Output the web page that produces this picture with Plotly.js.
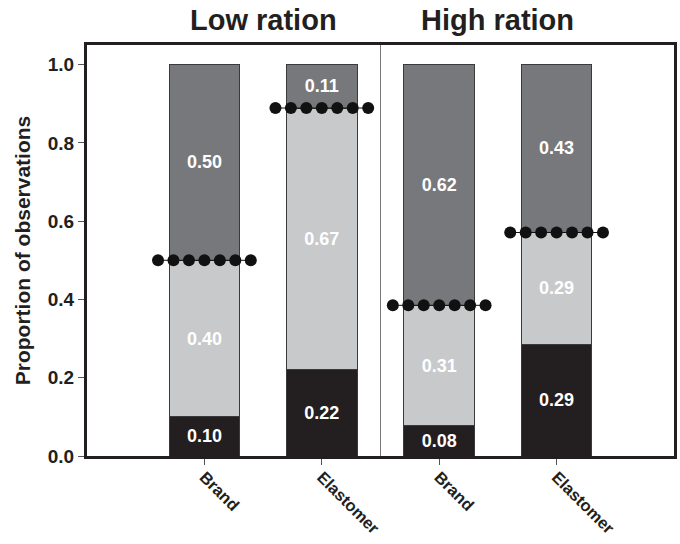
<!DOCTYPE html>
<html>
<head>
<meta charset="utf-8">
<script src="https://cdn.plot.ly/plotly-3.0.1.min.js"></script>
<style>html,body{margin:0;padding:0;background:#fff;}#chart{width:680px;height:544px;}</style>
</head>
<body>
<div id="chart"></div>
<script>
// ---- data ----
var categories = ["Brand", "Elastomer", "Brand", "Elastomer"];
var groups = ["Low ration", "High ration"];
var bottomVals = [0.10, 0.222, 0.077, 0.286];
var middleVals = [0.40, 0.667, 0.308, 0.286];
var topVals    = [0.50, 0.111, 0.615, 0.428];
var bottomLabels = ["0.10", "0.22", "0.08", "0.29"];
var middleLabels = ["0.40", "0.67", "0.31", "0.29"];
var topLabels    = ["0.50", "0.11", "0.62", "0.43"];
var thresholds = [0.50, 0.889, 0.385, 0.571];
var yTicks = [0.0, 0.2, 0.4, 0.6, 0.8, 1.0];

// ---- styling ----
var FONT = "Liberation Sans, Arial, Helvetica, sans-serif";
var INK = "#231f20";
var xpos = categories.map(function (_, i) { return i; });

function barTrace(vals, labels, color) {
  return {
    type: "bar", x: xpos, y: vals, width: 0.6,
    marker: {color: color, line: {color: "#3a3a3a", width: 1}},
    text: labels, textposition: "inside", insidetextanchor: "middle",
    textangle: 0, constraintext: "none",
    textfont: {family: FONT, size: 18, color: "#ffffff", weight: "bold"},
    hoverinfo: "skip", showlegend: false
  };
}

var traces = [
  barTrace(bottomVals, bottomLabels, INK),
  barTrace(middleVals, middleLabels, "#c8c9cb"),
  barTrace(topVals, topLabels, "#77787b")
];

// dotted threshold lines
var nDots = 7, halfSpan = 0.395;
thresholds.forEach(function (t, i) {
  var xs = [], ys = [];
  for (var k = 0; k < nDots; k++) {
    xs.push(i - halfSpan + k * (2 * halfSpan / (nDots - 1)));
    ys.push(t);
  }
  traces.push({
    type: "scatter", mode: "lines+markers", x: xs, y: ys,
    line: {color: "#111", width: 1},
    marker: {color: "#111", size: 12},
    hoverinfo: "skip", showlegend: false, cliponaxis: false
  });
});

var layout = {
  width: 680, height: 544,
  margin: {l: 87, r: 6, t: 45, b: 88},
  paper_bgcolor: "#fff", plot_bgcolor: "#fff",
  barmode: "stack", bargap: 0,
  showlegend: false,
  font: {family: FONT, color: INK},
  xaxis: {
    range: [-1, 4], tickvals: xpos, ticktext: categories,
    tickangle: 45, ticks: "outside", ticklen: 6, tickcolor: "#555", tickwidth: 1,
    ticklabelstandoff: -4,
    tickfont: {family: FONT, size: 16.5, color: INK, weight: "bold"},
    showline: true, mirror: true, linewidth: 3, linecolor: INK,
    showgrid: false, zeroline: false, fixedrange: true
  },
  yaxis: {
    range: [0, 1.05], tickvals: yTicks, tickformat: ".1f",
    ticks: "outside", ticklen: 6, tickcolor: "#555", tickwidth: 1,
    tickfont: {family: FONT, size: 19, color: INK, weight: "bold"},
    showline: true, mirror: true, linewidth: 3, linecolor: INK,
    showgrid: false, zeroline: false, fixedrange: true,
    title: {text: "Proportion of observations", standoff: 12,
            font: {family: FONT, size: 21, color: INK, weight: "bold"}}
  },
  shapes: [{
    type: "line", xref: "x", yref: "paper", x0: 1.5, x1: 1.5, y0: 0, y1: 1,
    line: {color: "#777", width: 1}
  }],
  annotations: groups.map(function (g, j) {
    return {
      text: g, xref: "x", yref: "paper", x: 0.5 + 2 * j, y: 1,
      xanchor: "center", yanchor: "middle", yshift: 25, showarrow: false,
      font: {family: FONT, size: 29, color: INK, weight: "bold"}
    };
  })
};

Plotly.newPlot("chart", traces, layout, {staticPlot: true, displayModeBar: false});
</script>
</body>
</html>
